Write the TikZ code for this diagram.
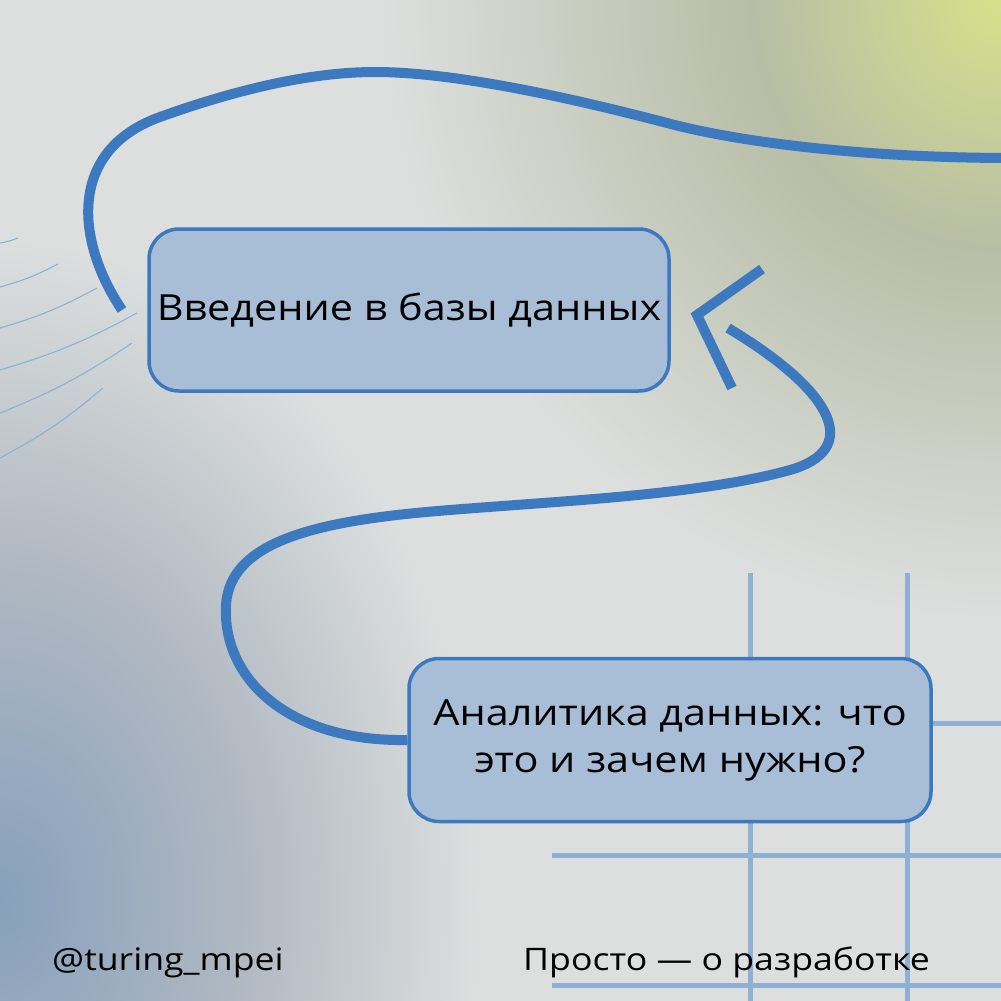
\documentclass[tikz,border=0pt]{standalone}
\usepackage{fontspec}
\setmainfont[FakeStretch=1.15]{Open Sans}
\usetikzlibrary{calc,shadings}

\definecolor{bg}{HTML}{DCDFDE}
\definecolor{lineblue}{HTML}{3C79BE}
\definecolor{boxblue}{HTML}{A8BED6}
\definecolor{gridblue}{HTML}{8FB0D5}
\definecolor{cornyellow}{HTML}{D5E18A}
\definecolor{cornolive}{HTML}{B8BDA6}
\definecolor{cornblue}{HTML}{87A0BC}
\definecolor{cornmid}{HTML}{B1B9C2}

\pgfdeclareradialshading{glowtr}{\pgfpoint{0bp}{0bp}}{color(0bp)=(cornyellow);color(10bp)=(cornolive);color(25bp)=(bg);color(50bp)=(bg)}
\pgfdeclareradialshading{glowbl}{\pgfpoint{0bp}{0bp}}{color(0bp)=(cornblue);color(13bp)=(cornmid);color(25bp)=(bg);color(50bp)=(bg)}

\tikzset{
  topic/.style={draw=lineblue, fill=boxblue, line width=3.5pt, rounded corners=30pt,
    align=center, inner sep=0pt, font=\fontsize{36}{47}\selectfont},
  flow/.style={draw=lineblue, line width=10pt},
  gridline/.style={draw=gridblue, line width=5pt},
  ray/.style={draw=gridblue, line width=1.1pt},
  caption/.style={inner sep=0pt, font=\fontsize{31}{36}\selectfont}
}

\begin{document}
\begin{tikzpicture}[x=1pt, y=-1pt]
\useasboundingbox (0,0) rectangle (1001,1001);
\clip (0,0) rectangle (1001,1001);
\fill[bg] (0,0) rectangle (1001,1001);
\shade[shading=glowtr] (1001,0) circle (620);
\shade[shading=glowbl] (0,900) ellipse (480 and 660);

\draw[gridline] (750,573) -- (750,1001);
\draw[gridline] (907,573) -- (907,1001);
\draw[gridline] (552,855) -- (1001,855);
\draw[gridline] (552,985) -- (1001,985);
\draw[gridline] (750,723) -- (1001,723);

\foreach \ya/\xb/\yb in {243/18/238, 287/58/264, 328/97/288, 370/137/313, 413/132/343, 458/103/388}
  \draw[ray] (0,\ya) to[bend right=6] (\xb,\yb);

\node[topic, minimum width=520pt, minimum height=162pt] (intro) at (409,310) {Введение в базы данных};
\node[topic, minimum width=522pt, minimum height=163pt] (analytics) at (670,740) {Аналитика данных: что\\это и зачем нужно?};

\node[caption, anchor=base west] (handle) at (52,970) {@turing\_mpei};
\node[caption, anchor=base east] (motto) at (930,970) {Просто — о разработке};

\coordinate (loopstart) at (122,310);
\coordinate (tail) at (1012,158);
\coordinate (hook) at (728,328);
\coordinate (tipa) at (762,269);
\coordinate (tipv) at (697,315);
\coordinate (tipb) at (732,388);

\draw[flow] (loopstart) .. controls (75,240) and (68,150) .. (160,117)
  .. controls (235,90) and (310,72) .. (375,72)
  .. controls (450,72) and (560,95) .. (667,123)
  .. controls (750,145) and (880,158) .. (tail);
\draw[flow] (analytics.west) .. controls (290,742) and (222,680) .. (226,605)
  .. controls (230,540) and (320,520) .. (450,510)
  .. controls (560,501) and (700,495) .. (790,470)
  .. controls (860,450) and (838,394) .. (hook);
\draw[flow] (tipa) -- (tipv) -- (tipb);
\end{tikzpicture}
\end{document}
